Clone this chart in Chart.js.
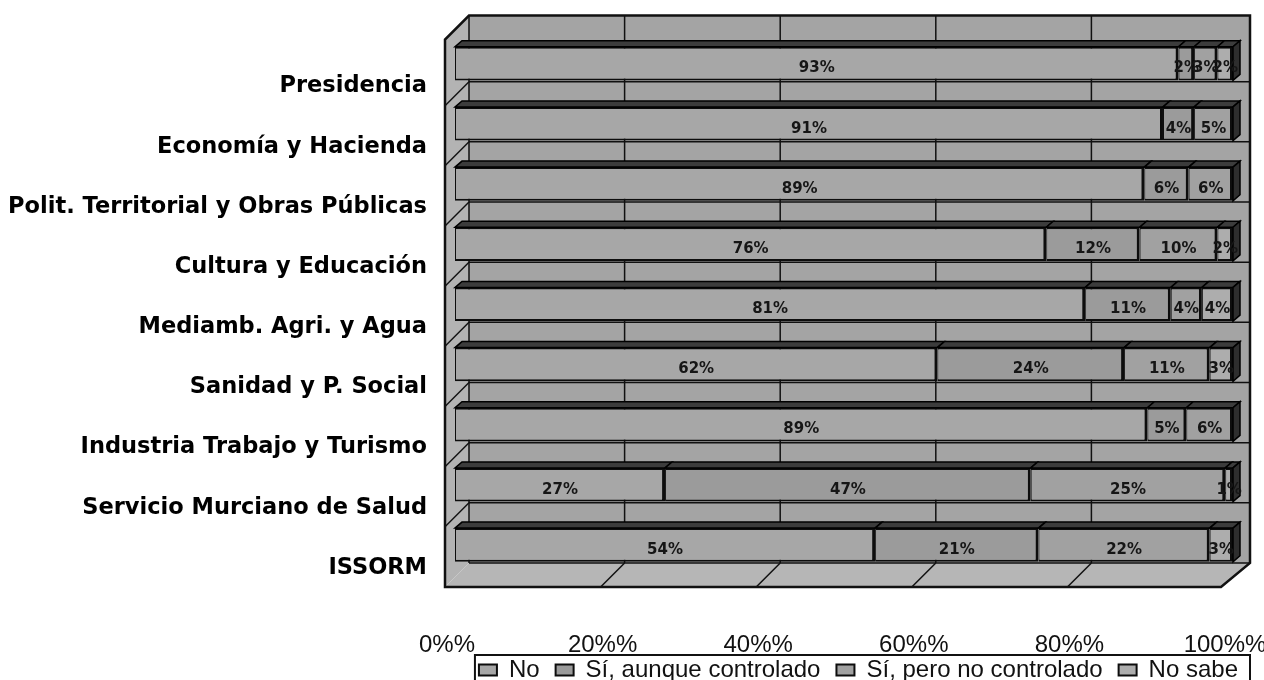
<!DOCTYPE html>
<html>
<head>
<meta charset="utf-8">
<script src="https://cdn.jsdelivr.net/npm/chart.js@4/dist/chart.umd.min.js"></script>
<style>
  html, body { margin: 0; padding: 0; background: #fff; }
  #wrap { width: 1264px; height: 680px; }
</style>
</head>
<body>
<div id="wrap"><canvas id="chart" width="1264" height="680"></canvas></div>
<script>
// data
const categories = ['Presidencia', 'Economía y Hacienda', 'Polit. Territorial y Obras Públicas',
  'Cultura y Educación', 'Mediamb. Agri. y Agua', 'Sanidad y P. Social',
  'Industria Trabajo y Turismo', 'Servicio Murciano de Salud', 'ISSORM'];
const seriesNames = ['No', 'Sí, aunque controlado', 'Sí, pero no controlado', 'No sabe'];
const no = [93, 91, 88.6, 76, 81, 62, 89, 27, 54];
const siControlado = [2, 4, 5.7, 12, 11, 24, 5, 47, 21];
const siNoControlado = [3, 5, 5.7, 10, 4, 11, 6, 25, 22];
const noSabe = [2, 0, 0, 2, 4, 3, 0, 1, 3];
const xTicks = [0, 20, 40, 60, 80, 100];

const fills = ['#a7a7a7', '#9b9b9b', '#a1a1a1', '#adadad'];

// 3d box behind the bars
const depthBox = {
  id: 'depthBox',
  beforeDraw(chart) {
    const { ctx, chartArea: a } = chart;
    const W = a.right - a.left;
    const fx = a.left - 10, fy = a.bottom + 12;   // front floor corner
    const bx = a.left + 14, by = a.bottom - 12;   // back floor corner
    const topY = a.top - 18;
    ctx.save();
    ctx.fillStyle = '#fff';
    ctx.fillRect(0, 0, chart.width, chart.height);
    ctx.fillStyle = '#a4a4a4';
    ctx.fillRect(bx, topY, W + 3, by - topY);
    ctx.fillStyle = '#b3b3b3';
    ctx.beginPath();
    ctx.moveTo(fx, topY + 24); ctx.lineTo(bx, topY); ctx.lineTo(bx, by); ctx.lineTo(fx, fy);
    ctx.closePath(); ctx.fill();
    ctx.fillStyle = '#b6b6b6';
    ctx.beginPath();
    ctx.moveTo(fx, fy); ctx.lineTo(bx, by); ctx.lineTo(bx + W + 3, by); ctx.lineTo(fx + W - 2, fy);
    ctx.closePath(); ctx.fill();
    ctx.strokeStyle = '#111';
    ctx.lineWidth = 1.5;
    const xs = chart.scales.x;
    xTicks.forEach(t => {
      if (t <= 0 || t >= 100) return;
      const p = xs.getPixelForValue(t) - a.left;
      ctx.beginPath(); ctx.moveTo(bx + p, topY); ctx.lineTo(bx + p, by); ctx.stroke();
      ctx.beginPath(); ctx.moveTo(bx + p, by); ctx.lineTo(fx + p, fy); ctx.stroke();
    });
    const step = (a.bottom - a.top) / categories.length;
    for (let i = 1; i < categories.length; i++) {
      const yy = a.top + i * step - 12;
      ctx.beginPath(); ctx.moveTo(bx, yy); ctx.lineTo(bx + W + 3, yy); ctx.stroke();
      ctx.beginPath(); ctx.moveTo(fx, yy + 24); ctx.lineTo(bx, yy); ctx.stroke();
    }
    ctx.beginPath(); ctx.moveTo(bx, by); ctx.lineTo(bx + W + 3, by); ctx.stroke();
    ctx.beginPath(); ctx.moveTo(bx, topY); ctx.lineTo(bx, by); ctx.stroke();
    ctx.lineWidth = 2.5;
    ctx.beginPath();
    ctx.moveTo(bx, topY); ctx.lineTo(bx + W + 3, topY); ctx.lineTo(bx + W + 3, by);
    ctx.lineTo(fx + W - 2, fy); ctx.lineTo(fx, fy); ctx.lineTo(fx, topY + 24);
    ctx.closePath(); ctx.stroke();
    ctx.restore();
  }
};

// top and end faces of the bars plus value labels
const barFaces = {
  id: 'barFaces',
  afterDatasetsDraw(chart) {
    const { ctx } = chart;
    const dx = 7, dy = 6;
    ctx.save();
    ctx.strokeStyle = '#000';
    ctx.lineWidth = 1.5;
    const n = chart.data.datasets.length;
    chart.data.datasets.forEach((ds, di) => {
      chart.getDatasetMeta(di).data.forEach((el, i) => {
        const { x, y, base, height } = el.getProps(['x', 'y', 'base', 'height'], true);
        if (Math.abs(x - base) < 0.5) return;
        const top = y - height / 2;
        ctx.fillStyle = '#3c3c3c';
        ctx.beginPath();
        ctx.moveTo(base, top); ctx.lineTo(x, top); ctx.lineTo(x + dx, top - dy); ctx.lineTo(base + dx, top - dy);
        ctx.closePath(); ctx.fill(); ctx.stroke();
        let last = true;
        for (let k = di + 1; k < n; k++) if (chart.data.datasets[k].data[i] > 0) last = false;
        if (last) {
          ctx.fillStyle = '#2e2e2e';
          ctx.beginPath();
          ctx.moveTo(x, top); ctx.lineTo(x + dx, top - dy); ctx.lineTo(x + dx, top - dy + height); ctx.lineTo(x, top + height);
          ctx.closePath(); ctx.fill(); ctx.stroke();
        }
      });
    });
    ctx.fillStyle = '#161616';
    ctx.font = 'bold 15px "DejaVu Sans", sans-serif';
    ctx.textAlign = 'center';
    ctx.textBaseline = 'middle';
    chart.data.datasets.forEach((ds, di) => {
      chart.getDatasetMeta(di).data.forEach((el, i) => {
        const v = ds.data[i];
        if (!v) return;
        const { x, y, base } = el.getProps(['x', 'y', 'base'], true);
        ctx.fillText(Math.round(v) + '%', (x + base) / 2, y + 5);
      });
    });
    ctx.restore();
  }
};

// frame around the legend
const legendFrame = {
  id: 'legendFrame',
  afterDraw(chart) {
    const lg = chart.legend;
    if (!lg || !lg.legendHitBoxes.length) return;
    const hb = lg.legendHitBoxes;
    const l = hb[0].left - 4;
    const last = hb[hb.length - 1];
    const r = last.left + last.width + 12;
    const t = hb[0].top - 3;
    const { ctx } = chart;
    ctx.save();
    ctx.strokeStyle = '#111';
    ctx.lineWidth = 2;
    ctx.strokeRect(l, t, r - l, chart.height - t + 5);
    ctx.restore();
  }
};

new Chart(document.getElementById('chart'), {
  type: 'bar',
  data: {
    labels: categories,
    datasets: [no, siControlado, siNoControlado, noSabe].map((d, i) => ({
      label: seriesNames[i],
      data: d,
      backgroundColor: fills[i],
      borderColor: '#0d0d0d',
      borderWidth: { top: 2, bottom: 2, left: 1, right: 3 },
      borderSkipped: false,
      barPercentage: 0.56,
      categoryPercentage: 1
    }))
  },
  options: {
    indexAxis: 'y',
    responsive: false,
    animation: false,
    devicePixelRatio: 1,
    layout: { padding: { top: 33, left: 0, right: 10, bottom: -12 } },
    scales: {
      x: {
        stacked: true,
        min: 0, max: 100,
        grid: { display: false },
        border: { display: false },
        afterFit(s) { s.height = 67; },
        ticks: {
          stepSize: 20,
          mirror: true,
          padding: -85,
          labelOffset: -8,
          color: '#111',
          font: { family: '"Liberation Sans", Arial, sans-serif', size: 24 },
          callback: v => v + '%%'
        }
      },
      y: {
        stacked: true,
        grid: { display: false },
        border: { display: false },
        afterFit(s) { s.width = 455; },
        ticks: {
          padding: 20,
          labelOffset: 23,
          color: '#000',
          font: { family: '"DejaVu Sans", sans-serif', size: 22.5, weight: 'bold' }
        }
      },
      yRight: {
        type: 'linear',
        position: 'right',
        grid: { display: false },
        border: { display: false },
        ticks: { display: false },
        afterFit(s) { s.width = 21; }
      }
    },
    plugins: {
      legend: {
        position: 'bottom',
        align: 'end',
        labels: {
          boxWidth: 18,
          boxHeight: 11,
          padding: 16,
          color: '#111',
          font: { family: '"Liberation Sans", Arial, sans-serif', size: 24 }
        }
      },
      tooltip: { enabled: false }
    }
  },
  plugins: [depthBox, barFaces, legendFrame]
});
</script>
</body>
</html>
